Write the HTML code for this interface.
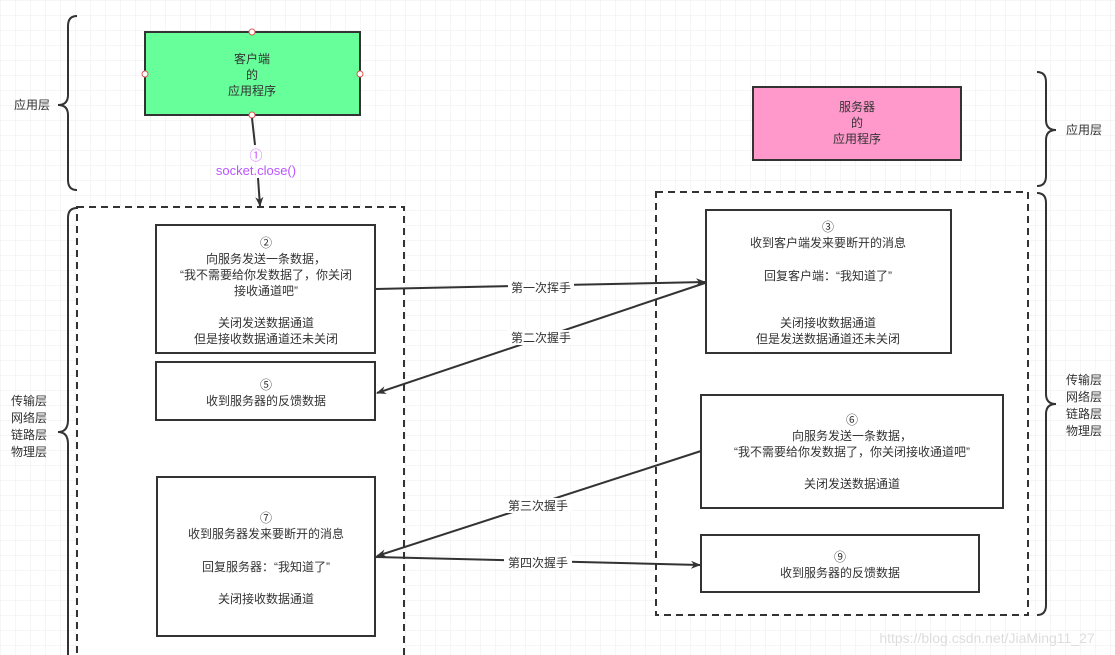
<!DOCTYPE html>
<html><head><meta charset="utf-8"><style>
html,body{margin:0;padding:0;background:#fff}
svg{display:block}
text{font-family:"Liberation Sans","Noto Sans CJK SC",sans-serif;font-size:12px;fill:#333;text-anchor:middle}
.l{text-anchor:start}
</style></head><body>
<svg width="1115" height="655" viewBox="0 0 1115 655" xmlns="http://www.w3.org/2000/svg">
<defs>
<pattern id="g" width="15" height="15" patternUnits="userSpaceOnUse"><path d="M15 0H0V15" fill="none" stroke="#ececec" stroke-width="1"/></pattern>
<marker id="a" markerWidth="10" markerHeight="8" refX="9" refY="4" orient="auto" markerUnits="userSpaceOnUse"><path d="M0,0 L10,4 L0,8 L3,4z" fill="#333"/></marker>
</defs>
<rect width="1115" height="655" fill="url(#g)"/>
<!-- dashed containers -->
<rect x="77" y="207" width="327" height="460" fill="#fff" stroke="#333" stroke-width="2" stroke-dasharray="7,5"/>
<rect x="656" y="192" width="372" height="423" fill="#fff" stroke="#333" stroke-width="2" stroke-dasharray="7,5"/>
<!-- braces -->
<g fill="none" stroke="#333" stroke-width="2">
<path d="M77,16 Q68,16 68,26 L68,95 Q68,105 58,105 Q68,105 68,115 L68,180 Q68,190 77,190"/>
<path d="M77,208 Q68,208 68,218 L68,420 Q68,432 58,432 Q68,432 68,444 L68,660"/>
<path d="M1037,72 Q1046,72 1046,82 L1046,120 Q1046,130 1056,130 Q1046,130 1046,140 L1046,176 Q1046,186 1037,186"/>
<path d="M1037,193 Q1046,193 1046,203 L1046,394 Q1046,404 1056,404 Q1046,404 1046,414 L1046,605 Q1046,615 1037,615"/>
</g>
<text x="32" y="109">应用层</text>
<text x="1084" y="134">应用层</text>
<text x="29" y="405">传输层</text><text x="29" y="422">网络层</text><text x="29" y="439">链路层</text><text x="29" y="456">物理层</text>
<text x="1084" y="384">传输层</text><text x="1084" y="401">网络层</text><text x="1084" y="418">链路层</text><text x="1084" y="435">物理层</text>
<!-- client app -->
<rect x="145" y="32" width="215" height="83" fill="#66ff99" stroke="#333" stroke-width="2"/>
<text x="252" y="63">客户端</text><text x="252" y="79">的</text><text x="252" y="95">应用程序</text>
<g fill="#fff" stroke="#d55" stroke-width="1"><circle cx="252" cy="32" r="3"/><circle cx="252" cy="115" r="3"/><circle cx="145" cy="74" r="3"/><circle cx="360" cy="74" r="3"/></g>
<line x1="252" y1="118" x2="255" y2="145" stroke="#333" stroke-width="2"/>
<line x1="258" y1="178" x2="260" y2="206" stroke="#333" stroke-width="2" marker-end="url(#a)"/>
<text x="256" y="160" style="fill:#c6f;font-size:13px">①</text>
<text x="256" y="175" style="fill:#b5f;font-size:13px">socket.close()</text>
<!-- server app -->
<rect x="753" y="87" width="208" height="73" fill="#ff99cc" stroke="#333" stroke-width="2"/>
<text x="857" y="111">服务器</text><text x="857" y="127">的</text><text x="857" y="143">应用程序</text>
<!-- boxes -->
<g fill="#fff" stroke="#333" stroke-width="2">
<rect x="156" y="225" width="219" height="128"/>
<rect x="156" y="362" width="219" height="58"/>
<rect x="157" y="477" width="218" height="159"/>
<rect x="706" y="210" width="245" height="143"/>
<rect x="701" y="395" width="302" height="113"/>
<rect x="701" y="535" width="278" height="57"/>
</g>
<text x="266" y="247">②</text><text x="266" y="263">向服务发送一条数据，</text><text x="266" y="279">“我不需要给你发数据了，你关闭</text><text x="266" y="295">接收通道吧”</text><text x="266" y="327">关闭发送数据通道</text><text x="266" y="343">但是接收数据通道还未关闭</text>
<text x="266" y="389">⑤</text><text x="266" y="405">收到服务器的反馈数据</text>
<text x="266" y="522">⑦</text><text x="266" y="538">收到服务器发来要断开的消息</text><text x="266" y="571">回复服务器：“我知道了”</text><text x="266" y="603">关闭接收数据通道</text>
<text x="828" y="231">③</text><text x="828" y="247">收到客户端发来要断开的消息</text><text x="828" y="280">回复客户端：“我知道了”</text><text x="828" y="327">关闭接收数据通道</text><text x="828" y="343">但是发送数据通道还未关闭</text>
<text x="852" y="424">⑥</text><text x="852" y="440">向服务发送一条数据，</text><text x="852" y="456">“我不需要给你发数据了，你关闭接收通道吧”</text><text x="852" y="488">关闭发送数据通道</text>
<text x="840" y="561">⑨</text><text x="840" y="577">收到服务器的反馈数据</text>
<!-- arrows -->
<g stroke="#333" stroke-width="2" fill="none">
<line x1="375" y1="289" x2="705" y2="282" marker-end="url(#a)"/>
<line x1="705" y1="283" x2="377" y2="393" marker-end="url(#a)"/>
<line x1="701" y1="451" x2="377" y2="556" marker-end="url(#a)"/>
<line x1="375" y1="557" x2="700" y2="565" marker-end="url(#a)"/>
</g>
<g fill="#fff"><rect x="508" y="280" width="66" height="15"/><rect x="508" y="330" width="66" height="15"/><rect x="504" y="498" width="68" height="15"/><rect x="504" y="555" width="68" height="15"/></g>
<text x="541" y="292">第一次挥手</text>
<text x="541" y="342">第二次握手</text>
<text x="538" y="510">第三次握手</text>
<text x="538" y="567">第四次握手</text>
<text x="987" y="643" style="fill:#ddd;font-size:14px">https://blog.csdn.net/JiaMing11_27</text>
</svg>
</body></html>
